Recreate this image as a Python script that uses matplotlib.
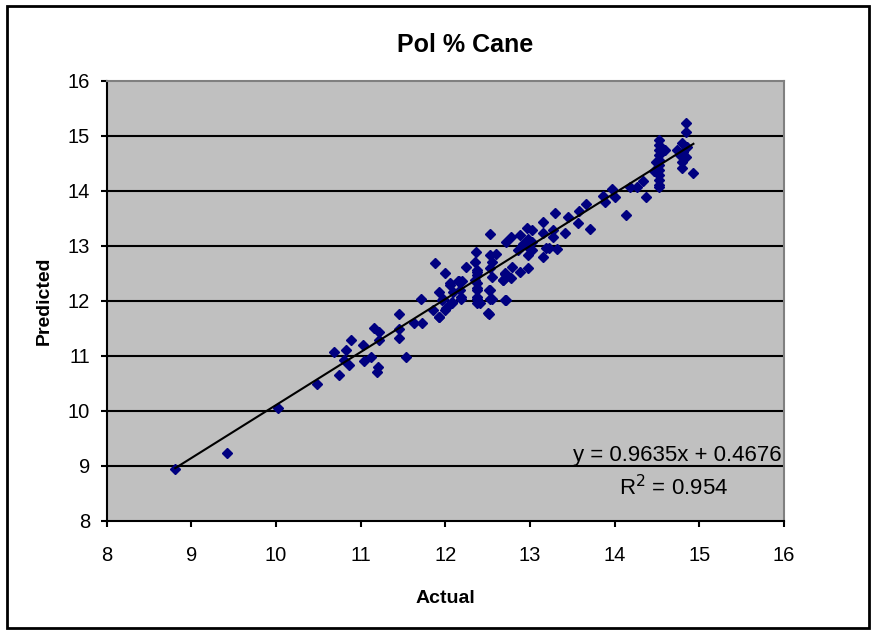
import numpy as np
import matplotlib.pyplot as plt
from matplotlib.patches import Rectangle

plt.rcParams['font.family'] = ['Liberation Sans', 'DejaVu Sans']

# Actual vs predicted Pol % Cane
actual = [
    8.81, 9.42, 10.02, 10.48, 10.74, 10.68, 10.83, 10.80, 10.86, 10.89,
    11.03, 11.04, 11.12, 11.16, 11.22, 11.22, 11.21, 11.19, 11.45, 11.45,
    11.53, 11.45, 11.63, 11.73, 11.71, 11.85, 11.92, 12.00, 11.88, 12.00,
    11.93, 11.97, 12.05, 12.09, 12.08, 12.16, 12.18, 12.24, 12.20, 12.36,
    12.35, 12.37, 12.35, 12.37, 12.37, 12.41, 12.51, 12.53, 12.53, 12.55,
    12.53, 12.55, 12.53, 12.53, 12.60, 12.68, 12.70, 12.71, 12.72, 12.77,
    12.78, 12.79, 12.86, 12.88, 12.88, 12.92, 12.96, 12.98, 12.98, 12.98,
    12.98, 13.02, 13.02, 13.02, 13.15, 13.15, 13.15, 13.19, 13.23, 13.27,
    13.27, 13.29, 13.32, 13.41, 13.45, 13.57, 13.58, 13.66, 13.71, 13.86,
    13.89, 13.97, 14.00, 14.13, 14.18, 14.26, 14.34, 14.37,
    14.52, 14.52, 14.52, 14.52, 14.52, 14.52, 14.52, 14.52, 14.52, 14.52,
    14.52, 14.59, 14.49, 14.47, 14.84, 14.84, 14.79, 14.86, 14.74, 14.81,
    14.77, 14.84, 14.79, 14.79, 14.93,
    12.37, 12.37, 12.37, 12.37, 12.37, 12.37, 12.05, 12.15, 12.17, 12.19,
    12.08, 11.96, 12.01, 11.93, 12.52, 12.55, 12.50, 12.70, 12.72, 12.68,
]
predicted = [
    8.94, 9.23, 10.05, 10.48, 10.65, 11.06, 11.10, 10.92, 10.83, 11.29,
    11.19, 10.91, 10.98, 11.50, 11.43, 11.29, 10.80, 10.71, 11.48, 11.33,
    10.98, 11.76, 11.59, 11.59, 12.03, 11.84, 11.70, 11.84, 12.68, 12.51,
    12.16, 12.04, 12.29, 12.16, 11.98, 12.35, 12.07, 12.62, 12.35, 12.89,
    12.71, 12.53, 12.38, 12.23, 12.07, 11.95, 11.76, 13.21, 12.83, 12.71,
    12.59, 12.44, 12.19, 12.04, 12.85, 12.38, 12.50, 12.01, 13.07, 13.16,
    12.41, 12.61, 12.92, 12.53, 13.19, 13.04, 13.32, 13.13, 12.98, 12.83,
    12.59, 13.29, 13.07, 12.92, 13.44, 13.24, 12.80, 12.95, 12.95, 13.29,
    13.16, 13.59, 12.94, 13.24, 13.53, 13.41, 13.64, 13.76, 13.30, 13.90,
    13.80, 14.04, 13.88, 13.56, 14.07, 14.07, 14.18, 13.89,
    14.92, 14.83, 14.74, 14.65, 14.56, 14.47, 14.37, 14.28, 14.19, 14.10,
    14.06, 14.74, 14.53, 14.35, 15.24, 15.07, 14.86, 14.80, 14.74, 14.71,
    14.65, 14.62, 14.53, 14.41, 14.32,
    12.55, 12.46, 12.32, 12.19, 12.04, 11.95, 12.32, 12.35, 12.19, 12.03,
    11.96, 12.01, 11.86, 11.71, 12.19, 12.04, 11.77, 12.49, 12.01, 12.38,
]

slope = 0.9635
intercept = 0.4676
r_squared = 0.954

x_ticks = [8, 9, 10, 11, 12, 13, 14, 15, 16]
y_ticks = [8, 9, 10, 11, 12, 13, 14, 15, 16]

W, H = 875, 632
fig = plt.figure(figsize=(W / 100, H / 100), dpi=100)
ax = fig.add_axes([0.1219, 0.1761, 0.7741, 0.6962])
ax.set_facecolor('#C0C0C0')

# horizontal gridlines
for yv in y_ticks[1:-1]:
    ax.axhline(yv, color='black', lw=1.5, zorder=1)

ax.plot(actual, predicted, linestyle='none', marker='D', markersize=5.5,
        color='#000080', markeredgecolor='#000080', zorder=3)

# linear trendline over the range of the data
xs = np.array([min(actual), max(actual)])
ax.plot(xs, slope * xs + intercept, color='black', lw=1.5, zorder=4)

# equation labels, placed in pixel units from the top-left corner
fig.text(782 / W, 1 - 455 / H, f'y = {slope}x + {intercept}',
         ha='right', va='center', fontsize=16)
fig.text(674 / W, 1 - 488 / H, f'R$^2$ = {r_squared}',
         ha='center', va='center', fontsize=16)

ax.set_xlim(8, 16)
ax.set_ylim(8, 16)
ax.set_xticks(x_ticks)
ax.set_yticks(y_ticks)
ax.tick_params(direction='out', length=4, width=1.5, labelsize=14.5, color='black')
ax.tick_params(axis='x', pad=14)
ax.tick_params(axis='y', pad=8)

for side in ['left', 'bottom']:
    ax.spines[side].set_color('black')
    ax.spines[side].set_linewidth(1.5)
for side in ['top', 'right']:
    ax.spines[side].set_color('#808080')
    ax.spines[side].set_linewidth(1.5)

ax.set_xlabel('Actual', fontsize=14, fontweight='bold', labelpad=18)
ax.set_ylabel('Predicted', fontsize=14, fontweight='bold', labelpad=11)
fig.text(465 / W, 1 - 45 / H, 'Pol % Cane', ha='center', va='center',
         fontsize=18, fontweight='bold')

# chart border
fig.patches.append(Rectangle((0.008, 0.006), 0.985, 0.985, transform=fig.transFigure,
                             fill=False, edgecolor='black', lw=2))

fig.savefig('out.png', dpi=100)
